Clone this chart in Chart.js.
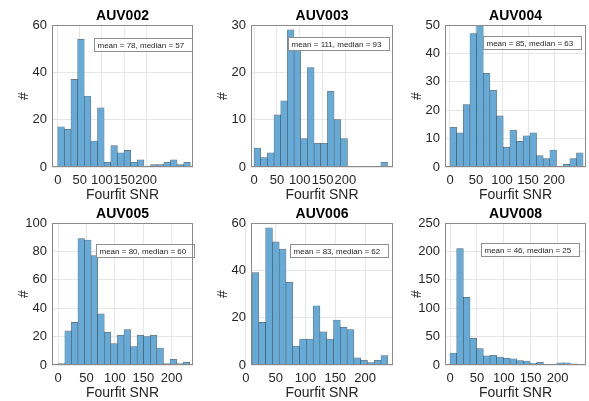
<!DOCTYPE html>
<html><head><meta charset="utf-8">
<script src="https://cdn.jsdelivr.net/npm/chart.js@4"></script>
<style>
html,body{margin:0;padding:0;background:#fff;}
body{width:589px;height:401px;position:relative;overflow:hidden;}
.p{position:absolute;}
.p canvas{display:block;}
</style></head><body>
<script>
// ---- data ----
const panelNames = ["AUV002","AUV003","AUV004","AUV005","AUV006","AUV008"];
const counts002 = [17,16,37,54,30,11,25,2,9,6,7,2,3,0,1,1,2,3,1,2];
const counts003 = [4,2,3,11,14,29,25,6,21,5,5,16,10,6,0,0,0,0,0,1];
const counts004 = [14,12,22,47,50,33,27,18,7,13,9,11,12,4,3,6,0,1,3,5];
const counts005 = [1,24,30,89,88,77,36,23,15,21,25,13,21,20,21,12,1,4,1,2];
const counts006 = [39,18,58,52,49,35,8,11,11,25,14,11,19,16,15,3,2,1,2,4];
const counts008 = [21,205,119,47,29,16,17,14,12,11,8,7,3,5,0,1,4,4,2,1];
const binStarts = [0,0,0,0,10.3,0];
const binWidths = [15,14.6,12.8,11.6,11.4,12.4];
const xMins = [-13,-6.6,-9.6,-11,8.5,-9.3];
const xMaxs = [306,304,261.5,237.7,247,252.8];
const yMaxs = [60,30,50,100,60,250];
const yStepSizes = [20,10,10,20,20,50];
const xTickValues = [0,50,100,150,200];
const statLabels = ["mean = 78, median = 57","mean = 111, median = 93","mean = 85, median = 63",
                    "mean = 80, median = 60","mean = 83, median = 62","mean = 46, median = 25"];
const allCounts = [counts002,counts003,counts004,counts005,counts006,counts008];

// ---- layout (page pixels) ----
const colL = [52,251,445], colR = [193,393,586];
const rowT = [25,223], rowB = [167,365];
const statDx = [42,37,38,44,39,36], statDy = [13,12,11,21,21,20];
const XAXIS_H = 37;

const FONT = "'Liberation Sans', Arial, Helvetica, sans-serif";
Chart.defaults.font.family = FONT;

const framePlugin = {
  id:'frame',
  afterDatasetsDraw(chart){
    const o = chart.options.plugins.statBox; if(!o) return;
    const {ctx, chartArea:a} = chart;
    ctx.save();
    ctx.font = "8px " + FONT;
    const tw = ctx.measureText(o.text).width;
    const x = Math.round(a.left + o.dx) + 0.5, y = Math.round(a.top + o.dy) + 0.5;
    const w = Math.round(tw + 11), h = 13;
    ctx.fillStyle = '#fff'; ctx.fillRect(x, y, w, h);
    ctx.strokeStyle = '#8f8f8f'; ctx.lineWidth = 1; ctx.strokeRect(x, y, w, h);
    ctx.fillStyle = '#262626'; ctx.textBaseline = 'middle'; ctx.textAlign = 'left';
    ctx.fillText(o.text, x + 3, y + h/2 + 0.5);
    ctx.restore();
  },
  afterDraw(chart){
    const {ctx, chartArea:a} = chart;
    ctx.save();
    ctx.strokeStyle = '#8a8a8a'; ctx.lineWidth = 1;
    ctx.strokeRect(Math.round(a.left)+0.5, Math.round(a.top)+0.5, Math.round(a.right-a.left)-1, Math.round(a.bottom-a.top)-1);
    ctx.restore();
  }
};

function makeChart(i){
  const col = i % 3, row = Math.floor(i / 3);
  const L = colL[col], R = colR[col], T = rowT[row], B = rowB[row];
  const div = document.createElement('div');
  div.className = 'p';
  const w = R - L + 50 + 2, h = 25 + (B - T) + XAXIS_H;
  div.style.left = (L - 50) + 'px'; div.style.top = (T - 25) + 'px';
  div.style.width = w + 'px'; div.style.height = h + 'px';
  const cv = document.createElement('canvas');
  div.appendChild(cv); document.body.appendChild(div);
  const data = allCounts[i].map((c, k) => ({x: binStarts[i] + (k + 0.5) * binWidths[i], y: c}));
  new Chart(cv, {
    type: 'bar',
    data: { datasets: [{
      data,
      backgroundColor: 'rgb(102,170,215)',
      borderColor: 'rgba(38,38,38,0.7)',
      borderWidth: ctx => (ctx.raw && ctx.raw.y > 0) ? 0.6 : 0,
      borderSkipped: false,
      barPercentage: 1, categoryPercentage: 1
    }]},
    options: {
      responsive: true, maintainAspectRatio: false, animation: false, devicePixelRatio: 1,
      layout: { padding: { left: 0, right: 2, top: 0, bottom: 0 } },
      plugins: {
        legend: { display: false }, tooltip: { enabled: false },
        title: { display: true, fullSize: false, text: panelNames[i], color: '#000',
                 font: { family: FONT, size: 14, weight: 'bold' }, padding: { top: 8, bottom: 0.2 } },
        statBox: { text: statLabels[i], dx: statDx[i], dy: statDy[i] }
      },
      scales: {
        x: {
          type: 'linear', min: xMins[i], max: xMaxs[i], offset: false,
          afterBuildTicks: ax => { ax.ticks = xTickValues.map(v => ({ value: v })); },
          afterFit: s => { s.height = XAXIS_H; },
          ticks: { autoSkip: false, maxRotation: 0, minRotation: 0, padding: 6,
                   font: { size: 13 }, color: '#262626', callback: v => String(v) },
          grid: { color: '#e6e6e6', drawTicks: false, lineWidth: 1, offset: false },
          border: { display: false },
          title: { display: true, text: 'Fourfit SNR', color: '#262626', font: { size: 14 },
                   padding: { top: 0, bottom: 0 } }
        },
        y: {
          min: 0, max: yMaxs[i],
          afterFit: s => { s.width = 50; },
          ticks: { stepSize: yStepSizes[i], padding: 5, font: { size: 13 }, color: '#262626' },
          grid: { color: '#e6e6e6', drawTicks: false, lineWidth: 1 },
          border: { display: false },
          title: { display: true, text: '#', color: '#262626', font: { size: 14 },
                   padding: { top: 14, bottom: 0 } }
        }
      }
    },
    plugins: [framePlugin]
  });
}
for (let i = 0; i < 6; i++) makeChart(i);
</script>
</body></html>
